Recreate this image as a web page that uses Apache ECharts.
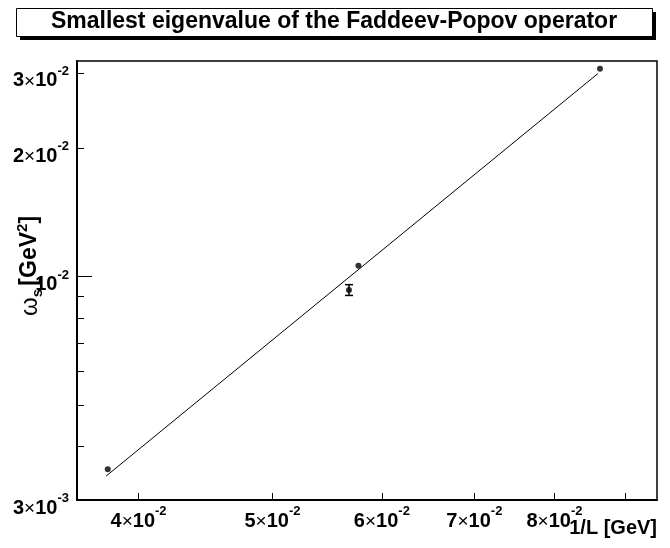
<!DOCTYPE html>
<html>
<head>
<meta charset="utf-8">
<script src="https://cdn.jsdelivr.net/npm/echarts@6/dist/echarts.min.js"></script>
<style>html,body{margin:0;padding:0;background:#fff}#chart{width:670px;height:548px}</style>
</head>
<body>
<div id="chart"></div>
<script>
// measured points (1/L vs omega_s)
var invL = [0.0380, 0.0568, 0.0577, 0.0863];
var omega = [0.00354, 0.00931, 0.01061, 0.0307];
var omegaErr = [0, 0.00027, 0, 0];
// power-law fit line end points
var fitL = [0.0379, 0.0860];
var fitOmega = [0.003414, 0.0299];
// ticks and labels
var xTicks = [0.04, 0.05, 0.06, 0.07, 0.08, 0.09];
var xLabels = [0.04, 0.05, 0.06, 0.07, 0.08];
var yTicks = [0.003, 0.004, 0.005, 0.006, 0.007, 0.008, 0.009, 0.02, 0.03];
var yMajor = [0.01];
var yLabels = [0.003, 0.01, 0.02, 0.03];

var font = '"Liberation Sans", Arial, Helvetica, sans-serif';

function sci(v) {
    var e = Math.floor(Math.log10(v) + 1e-9);
    var m = Math.round(v / Math.pow(10, e));
    var s = m === 1 ? '' : '{m|' + m + '}{x|×}';
    return s + '{m|10}{e|' + e + '}';
}
var rich = {
    m: {fontSize: 20, fontWeight: 'bold', fontFamily: font, color: '#000', lineHeight: 26, verticalAlign: 'bottom'},
    x: {fontSize: 19, fontFamily: font, color: '#000', lineHeight: 26, verticalAlign: 'bottom'},
    e: {fontSize: 13, fontWeight: 'bold', fontFamily: font, color: '#000', lineHeight: 13, verticalAlign: 'top'}
};

var chart = echarts.init(document.getElementById('chart'));
var option = {
    backgroundColor: '#fff',
    animation: false,
    grid: {left: 77, right: 13, top: 61, bottom: 48, show: true, borderColor: '#000', borderWidth: 1.5},
    xAxis: {
        type: 'log', logBase: 10, min: 0.0361, max: 0.0949,
        axisLine: {lineStyle: {color: '#000', width: 2}},
        axisTick: {inside: true, length: 7, customValues: xTicks, lineStyle: {color: '#000'}},
        axisLabel: {customValues: xLabels, margin: 5, formatter: sci, rich: rich},
        splitLine: {show: false}
    },
    yAxis: [{
        type: 'log', logBase: 10, min: 0.003, max: 0.032,
        axisLine: {lineStyle: {color: '#000', width: 2}},
        axisTick: {inside: true, length: 7, customValues: yTicks, lineStyle: {color: '#000'}},
        axisLabel: {customValues: yLabels, margin: 8, formatter: sci, rich: rich, padding: [10, 0, 0, 0]},
        splitLine: {show: false}
    }, {
        type: 'log', logBase: 10, min: 0.003, max: 0.032, position: 'left',
        axisLine: {show: false},
        axisTick: {inside: true, length: 15, customValues: yMajor, lineStyle: {color: '#000'}},
        axisLabel: {show: false},
        splitLine: {show: false}
    }],
    graphic: [
        {type: 'rect', left: 20, top: 12, shape: {width: 636, height: 28}, style: {fill: '#000'}},
        {type: 'rect', left: 16, top: 8, shape: {width: 636, height: 28}, style: {fill: '#fff', stroke: '#000', lineWidth: 1}},
        {type: 'text', x: 334, y: 22, style: {text: 'Smallest eigenvalue of the Faddeev-Popov operator', font: 'bold 23px ' + font, fill: '#000', align: 'center', verticalAlign: 'middle'}},
        {type: 'text', x: 657, y: 528, style: {text: '1/L [GeV]', font: 'bold 20px ' + font, fill: '#000', align: 'right', verticalAlign: 'middle'}},
        {type: 'text', x: 30, y: 266, rotation: Math.PI / 2, style: {
            text: '{w|ω}{s|s} {g|[GeV}{p|2}{g|]}', align: 'center', verticalAlign: 'middle',
            rich: {
                w: {fontSize: 24, fontFamily: font, fill: '#000', lineHeight: 30, verticalAlign: 'middle'},
                s: {fontSize: 15, fontWeight: 'bold', fontFamily: font, fill: '#000', lineHeight: 15, verticalAlign: 'bottom'},
                g: {fontSize: 23, fontWeight: 'bold', fontFamily: font, fill: '#000', lineHeight: 30, verticalAlign: 'middle'},
                p: {fontSize: 15, fontWeight: 'bold', fontFamily: font, fill: '#000', lineHeight: 15, verticalAlign: 'top'}
            }
        }}
    ],
    series: [{
        name: 'fit', type: 'line', symbol: 'none',
        lineStyle: {color: '#000', width: 1},
        data: fitL.map(function(x, i) { return [x, fitOmega[i]]; })
    }, {
        name: 'data', type: 'scatter', symbol: 'circle', symbolSize: 6,
        itemStyle: {color: '#000'},
        data: invL.map(function(x, i) { return [x, omega[i]]; })
    }, {
        name: 'err', type: 'custom',
        renderItem: function(params, api) {
            var x = api.value(0), y = api.value(1), e = api.value(2);
            var hi = api.coord([x, y + e]), lo = api.coord([x, y - e]);
            var w = 4, st = {stroke: '#000', lineWidth: 1.5};
            return {type: 'group', children: [
                {type: 'line', shape: {x1: hi[0] - w, y1: hi[1], x2: hi[0] + w, y2: hi[1]}, style: st},
                {type: 'line', shape: {x1: lo[0] - w, y1: lo[1], x2: lo[0] + w, y2: lo[1]}, style: st},
                {type: 'line', shape: {x1: hi[0], y1: hi[1], x2: lo[0], y2: lo[1]}, style: st}
            ]};
        },
        data: invL.map(function(x, i) { return [x, omega[i], omegaErr[i]]; }).filter(function(d) { return d[2] > 0; })
    }]
};
chart.setOption(option);
</script>
</body>
</html>
